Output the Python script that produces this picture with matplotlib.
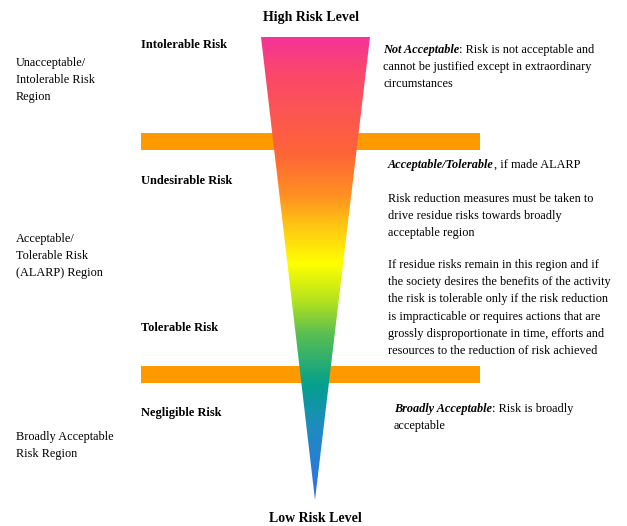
import matplotlib
matplotlib.use("Agg")
import matplotlib.pyplot as plt
import numpy as np
from matplotlib.colors import LinearSegmentedColormap
from matplotlib.patches import Polygon, Rectangle

# ---- content ----
top_label = "High Risk Level"
bottom_label = "Low Risk Level"

risk_labels = ["Intolerable Risk", "Undesirable Risk", "Tolerable Risk", "Negligible Risk"]
risk_label_y = [45, 181, 328, 413]

region_lines = [
    ["Unacceptable/", "Intolerable Risk", "Region"],
    ["Acceptable/", "Tolerable Risk", "(ALARP) Region"],
    ["Broadly Acceptable", "Risk Region"],
]
region_y = [63, 239, 437]

desc_blocks = [
    # (bold-italic lead, rest of first line, further lines, x, y)
    ("Not Acceptable", ": Risk is not acceptable and",
     ["cannot be justified except in extraordinary", "circumstances"], 383, 50),
    ("Acceptable/Tolerable", ", if made ALARP", [], 388, 165),
    ("", "Risk reduction measures must be taken to",
     ["drive residue risks towards broadly", "acceptable region"], 388, 199),
    ("", "If residue risks remain in this region and if",
     ["the society desires the benefits of the activity",
      "the risk is tolerable only if the risk reduction",
      "is impracticable or requires actions that are",
      "grossly disproportionate in time, efforts and",
      "resources to the reduction of risk achieved"], 388, 265),
    ("Broadly Acceptable", ": Risk is broadly", ["acceptable"], 394, 409),
]

# gradient stops (position from top 0 -> bottom 1, colour)
grad_pos = [0.0, 0.07, 0.25, 0.34, 0.41, 0.49, 0.57, 0.64, 0.75, 0.84, 1.0]
grad_col = ["#f5339a", "#fa466e", "#ff6438", "#ff8f22", "#ffc812", "#ffff00",
            "#b4e31e", "#5cbf50", "#05a08c", "#1e8cbe", "#3270e6"]

bar_color = "#ff9900"

# ---- drawing ----
W, H = 627, 526
fig = plt.figure(figsize=(W / 100, H / 100), dpi=100)
ax = fig.add_axes([0, 0, 1, 1])
ax.set_xlim(0, W)
ax.set_ylim(H, 0)
ax.axis("off")

serif = ["Liberation Serif", "DejaVu Serif"]
fs_body = 8.8
fs_bold = 8.9
fs_title = 10.0
line_h = 17.2

# orange bars (behind the triangle)
for y0 in [133, 366]:
    ax.add_patch(Rectangle((141, y0), 339, 17, color=bar_color, zorder=1, lw=0))

# gradient triangle
cmap = LinearSegmentedColormap.from_list("risk", list(zip(grad_pos, grad_col)))
grad = np.linspace(0, 1, 512).reshape(-1, 1)
top_y, apex_y = 37, 500
im = ax.imshow(grad, cmap=cmap, aspect="auto", extent=[261, 370, apex_y, top_y],
               zorder=2, interpolation="bilinear")
tri = Polygon([[261, top_y], [370, top_y], [315, apex_y]], closed=True,
              transform=ax.transData, facecolor="none", edgecolor="none")
ax.add_patch(tri)
im.set_clip_path(tri)

# top / bottom labels
ax.text(311, 18, top_label, ha="center", va="center", fontsize=fs_title,
        fontweight="bold", family=serif)
ax.text(315, 519, bottom_label, ha="center", va="center", fontsize=fs_title,
        fontweight="bold", family=serif)

# risk labels
for lab, y in zip(risk_labels, risk_label_y):
    ax.text(141, y, lab, ha="left", va="center", fontsize=fs_bold,
            fontweight="bold", family=serif)

# region labels
for lines, y in zip(region_lines, region_y):
    for i, ln in enumerate(lines):
        ax.text(16, y + i * line_h, ln, ha="left", va="center",
                fontsize=fs_body, family=serif)

# descriptions
for lead, rest, more, x, y in desc_blocks:
    if lead:
        t1 = ax.text(x, y, lead, ha="left", va="center", fontsize=fs_body,
                     fontweight="bold", fontstyle="italic", family=serif)
        ax.annotate(rest, xy=(1, 0.5), xycoords=t1, ha="left", va="center",
                    fontsize=fs_body, family=serif)
    else:
        ax.text(x, y, rest, ha="left", va="center", fontsize=fs_body, family=serif)
    for i, ln in enumerate(more):
        ax.text(x, y + (i + 1) * line_h, ln, ha="left", va="center",
                fontsize=fs_body, family=serif)

fig.savefig("out.png", dpi=100)
